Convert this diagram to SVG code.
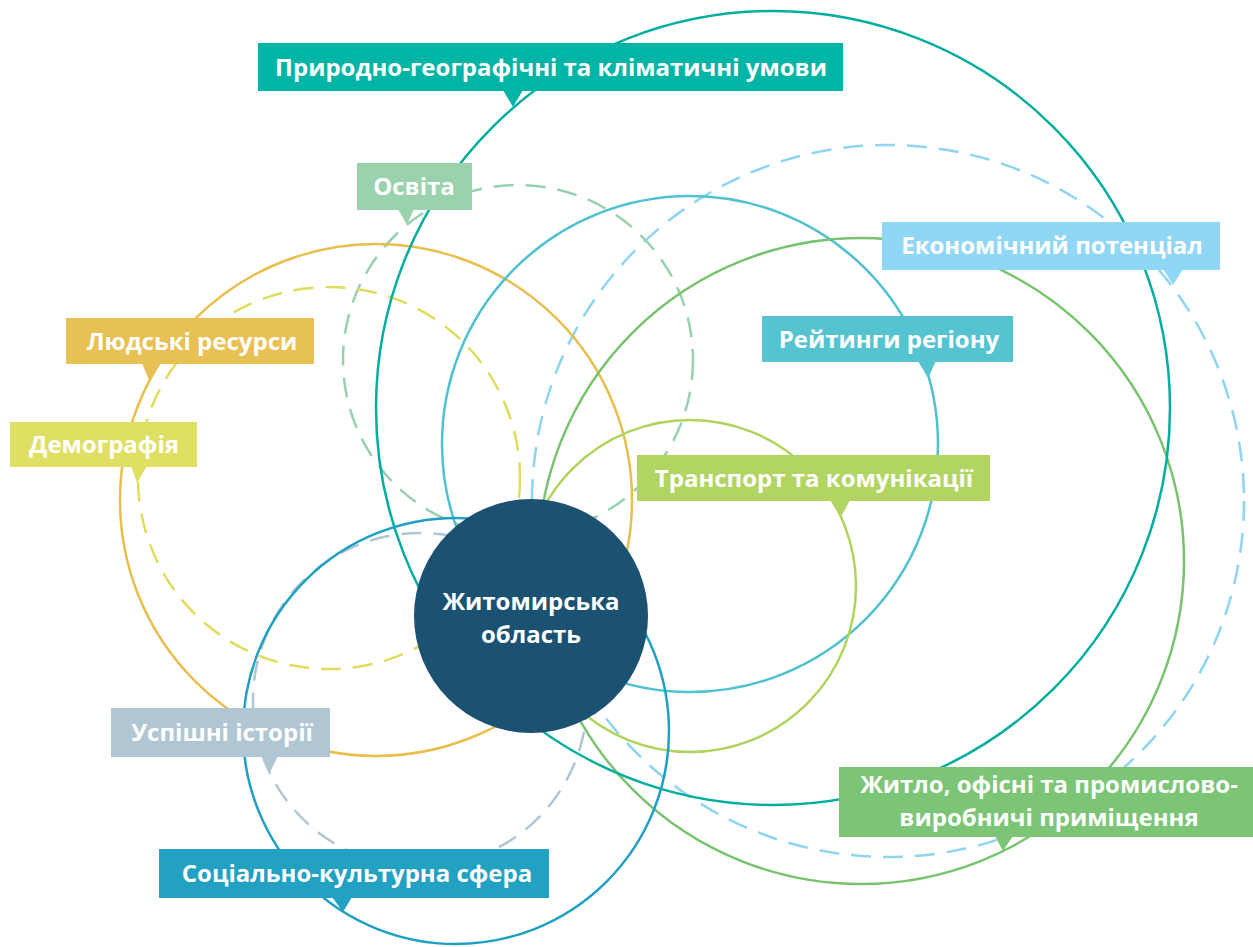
<svg xmlns="http://www.w3.org/2000/svg" width="1253" height="947" viewBox="0 0 1253 947">
<style>
.ring{fill:none;stroke-width:2.5}
.dash{stroke-dasharray:20 12}
.lbl{font-family:"Open Sans","Noto Sans","Liberation Sans",sans-serif;font-weight:700;font-size:24px;fill:#ffffff;text-anchor:middle}
</style>
<rect width="1253" height="947" fill="#ffffff"/>
<g id="rings">
<circle id="ring-econ" class="ring dash" cx="888" cy="501" r="356" stroke="#8fd5f3"/>
<circle id="ring-osvita" class="ring dash" cx="518" cy="360" r="175" stroke="#98d1ad"/>
<circle id="ring-demo" class="ring dash" cx="329" cy="478" r="191" stroke="#dedd5d"/>
<circle id="ring-uspishni" class="ring dash" cx="420" cy="700" r="167" stroke="#b0c6d3"/>
<circle id="ring-lyudski" class="ring" cx="376" cy="500" r="256" stroke="#e8be4d"/>
<circle id="ring-reityngy" class="ring" cx="690" cy="444" r="248" stroke="#4fc1cf"/>
<circle id="ring-zhytlo" class="ring" cx="861" cy="561" r="323" stroke="#77c36e"/>
<circle id="ring-transport" class="ring" cx="690" cy="586" r="166" stroke="#b0d35c"/>
<circle id="ring-pryroda" class="ring" cx="773" cy="408" r="397" stroke="#00ad9f"/>
<circle id="ring-social" class="ring" cx="456" cy="731" r="213" stroke="#1f9fc3"/>
</g>
<g id="center">
<circle cx="531" cy="616" r="117" fill="#1b5272"/>
<text class="lbl" x="531" y="610">Житомирська<tspan x="531" y="643">область</tspan></text>
</g>
<g id="lbl-pryroda">
<rect x="258" y="43" width="585" height="48" fill="#00b5a5"/>
<polygon points="503,90 523,90 513,107" fill="#00b5a5"/>
<text class="lbl" x="551" y="76">Природно-географічні та кліматичні умови</text>
</g>
<g id="lbl-osvita">
<rect x="357" y="163" width="115" height="47" fill="#99d2ad"/>
<polygon points="398,209 414,209 407,225" fill="#99d2ad"/>
<text class="lbl" x="414" y="195">Освіта</text>
</g>
<g id="lbl-econ">
<rect x="882" y="222" width="338" height="48" fill="#8fd7f5"/>
<polygon points="1163,269 1183,269 1173,285" fill="#8fd7f5"/>
<text class="lbl" x="1052" y="254">Економічний потенціал</text>
</g>
<g id="lbl-reityngy">
<rect x="762" y="316" width="251" height="46" fill="#56c4d0"/>
<polygon points="918,361 936,361 928,378" fill="#56c4d0"/>
<text class="lbl" x="889" y="348">Рейтинги регіону</text>
</g>
<g id="lbl-lyudski">
<rect x="66" y="318" width="248" height="46" fill="#e8c155"/>
<polygon points="142,363 158,363 149,380" fill="#e8c155"/>
<text class="lbl" x="192" y="350">Людські ресурси</text>
</g>
<g id="lbl-demo">
<rect x="10" y="422" width="187" height="45" fill="#dfdf63"/>
<polygon points="131,466 147,466 137,483" fill="#dfdf63"/>
<text class="lbl" x="104" y="453">Демографія</text>
</g>
<g id="lbl-transport">
<rect x="637" y="455" width="353" height="46" fill="#b2d462"/>
<polygon points="830,500 850,500 841,517" fill="#b2d462"/>
<text class="lbl" x="814" y="487">Транспорт та комунікації</text>
</g>
<g id="lbl-zhytlo">
<rect x="839" y="767" width="414" height="70" fill="#7cc576"/>
<polygon points="995,836 1013,836 1003,851" fill="#7cc576"/>
<text class="lbl" x="1049" y="793">Житло, офісні та промислово-<tspan x="1049" y="826">виробничі приміщення</tspan></text>
</g>
<g id="lbl-uspishni">
<rect x="111" y="708" width="219" height="49" fill="#b0c6d3"/>
<polygon points="262,756 278,756 270,772" fill="#b0c6d3"/>
<text class="lbl" x="222" y="741">Успішні історії</text>
</g>
<g id="lbl-social">
<rect x="159" y="849" width="390" height="49" fill="#22a1c3"/>
<polygon points="332,897 352,897 343,912" fill="#22a1c3"/>
<text class="lbl" x="357" y="882">Соціально-культурна сфера</text>
</g>
</svg>
